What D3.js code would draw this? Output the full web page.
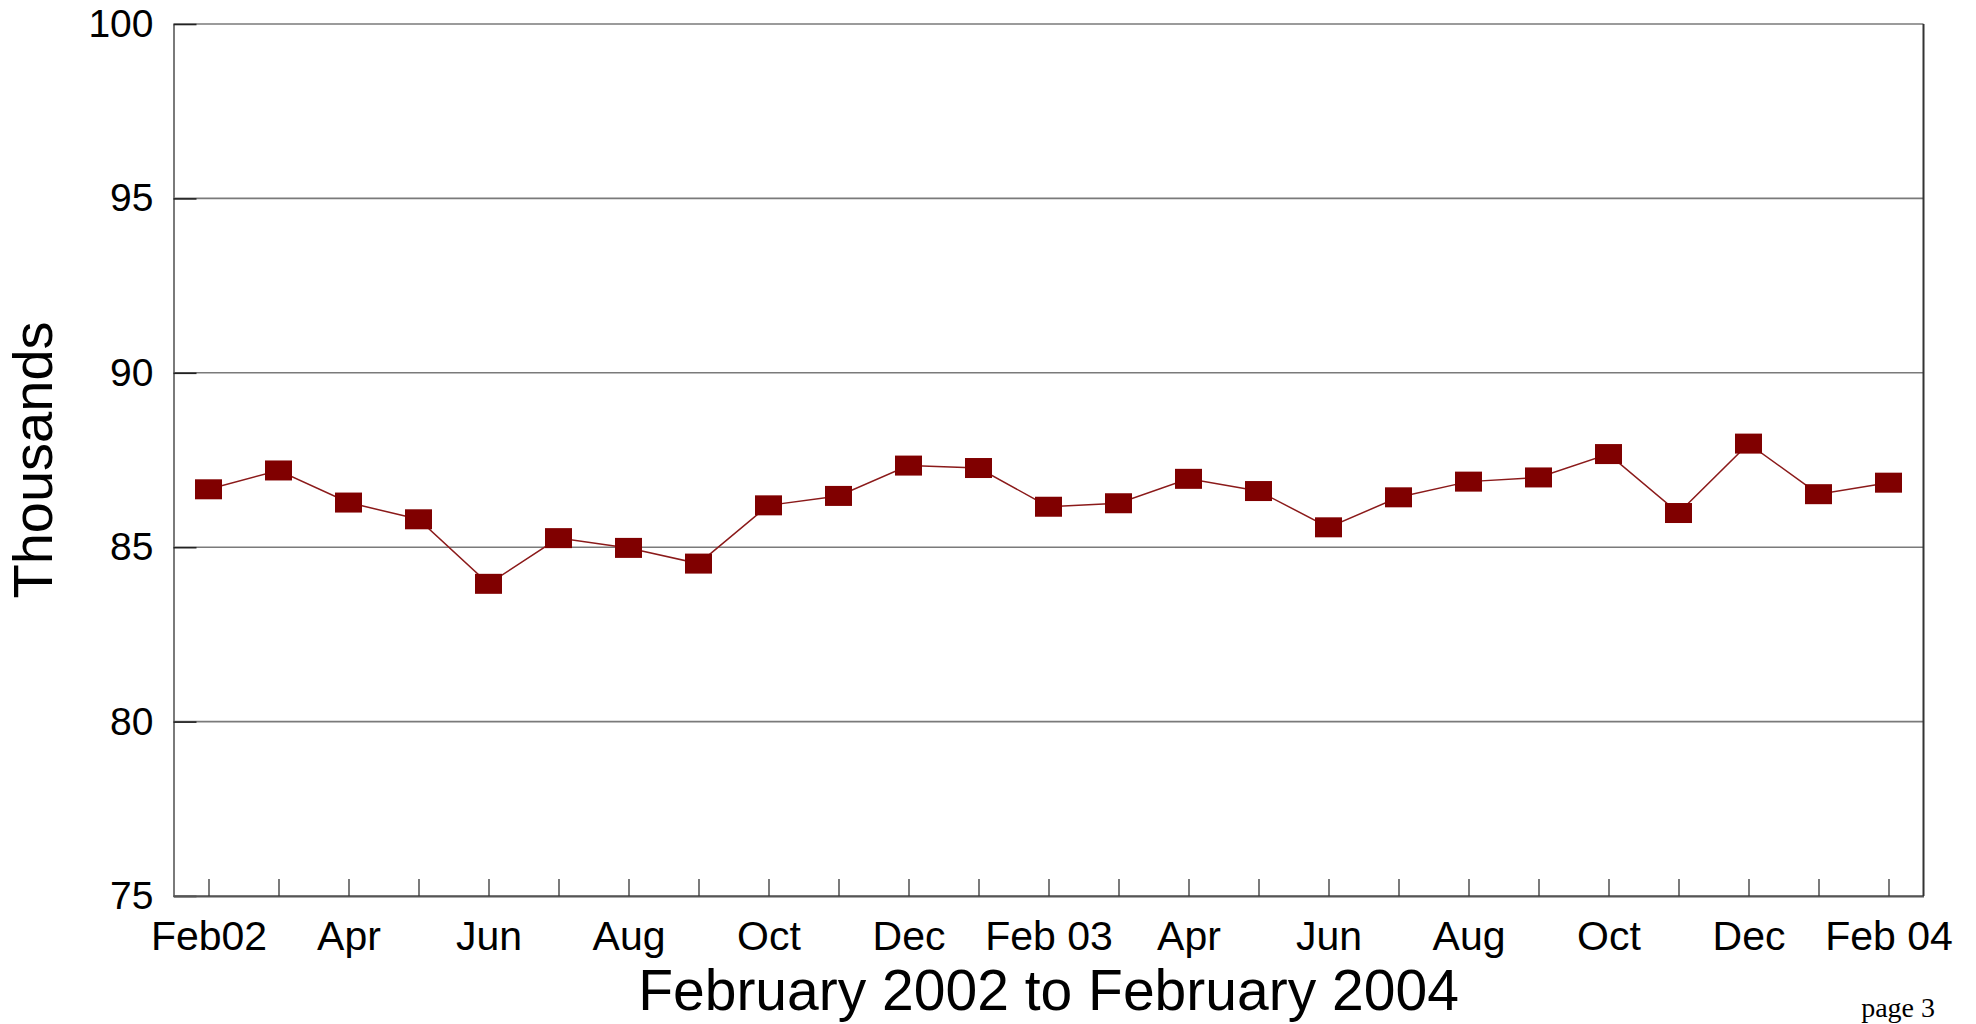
<!DOCTYPE html>
<html>
<head>
<meta charset="utf-8">
<script src="https://cdn.jsdelivr.net/npm/d3@7"></script>
<style>
  body { margin: 0; background: #fff; }
  svg { display: block; }
</style>
</head>
<body>
<svg id="chart" width="1976" height="1024"></svg>
<script>
// months on the x axis (one point per month)
const months = ["2002-02", "2002-03", "2002-04", "2002-05", "2002-06", "2002-07", "2002-08",
    "2002-09", "2002-10", "2002-11", "2002-12", "2003-01", "2003-02", "2003-03", "2003-04",
    "2003-05", "2003-06", "2003-07", "2003-08", "2003-09", "2003-10", "2003-11", "2003-12",
    "2004-01", "2004-02"];

// thousands
const values = [86.66, 87.20, 86.28, 85.80, 83.95, 85.26, 84.98, 84.53, 86.20, 86.47, 87.34,
    87.27, 86.16, 86.26, 86.96, 86.61, 85.57, 86.43, 86.88, 87.00, 87.67, 85.98, 87.97,
    86.52, 86.85];

// tick labels, shown every other month
const tickLabels = {
    "2002-02": "Feb02", "2002-04": "Apr", "2002-06": "Jun", "2002-08": "Aug",
    "2002-10": "Oct", "2002-12": "Dec", "2003-02": "Feb 03", "2003-04": "Apr",
    "2003-06": "Jun", "2003-08": "Aug", "2003-10": "Oct", "2003-12": "Dec",
    "2004-02": "Feb 04"
};

const yTicks = [75, 80, 85, 90, 95, 100];

const svg = d3.select("#chart");
const plot = { left: 173.5, right: 1923.5, top: 24, bottom: 896 };
const font = "'Liberation Sans', Arial, sans-serif";

const xScale = d3.scalePoint()
    .domain(months)
    .range([plot.left, plot.right])
    .padding(0.5);

const yScale = d3.scaleLinear()
    .domain([75, 100])
    .range([plot.bottom, plot.top]);

// horizontal grid lines
svg.append("g")
    .selectAll("line")
    .data(yTicks)
    .enter()
    .append("line")
    .attr("x1", plot.left)
    .attr("x2", plot.right)
    .attr("y1", d => yScale(d))
    .attr("y2", d => yScale(d))
    .attr("stroke", "#7a7a7a")
    .attr("stroke-width", 1.6);

// y axis
const yAxis = svg.append("g")
    .attr("transform", `translate(${plot.left},0)`)
    .call(d3.axisLeft(yScale)
        .tickValues(yTicks)
        .tickSizeInner(-23)
        .tickSizeOuter(0)
        .tickPadding(20));
yAxis.select(".domain").attr("stroke", "#7a7a7a").attr("stroke-width", 2);
yAxis.selectAll(".tick line").attr("stroke", "#222").attr("stroke-width", 1.6);
yAxis.selectAll("text")
    .attr("font-family", font)
    .attr("font-size", 39)
    .attr("fill", "#000");

// x axis
const xAxis = svg.append("g")
    .attr("transform", `translate(0,${plot.bottom})`)
    .call(d3.axisBottom(xScale)
        .tickSizeInner(-17)
        .tickSizeOuter(0)
        .tickPadding(25)
        .tickFormat(d => tickLabels[d] || ""));
xAxis.select(".domain").attr("stroke", "#555").attr("stroke-width", 2);
xAxis.selectAll(".tick line").attr("stroke", "#333").attr("stroke-width", 1.3);
xAxis.selectAll("text")
    .attr("font-family", font)
    .attr("font-size", 41)
    .attr("fill", "#000");

// right border
svg.append("line")
    .attr("x1", plot.right).attr("x2", plot.right)
    .attr("y1", plot.top).attr("y2", plot.bottom)
    .attr("stroke", "#333")
    .attr("stroke-width", 2);

// series line
const line = d3.line()
    .x((d, i) => xScale(months[i]))
    .y(d => yScale(d));

svg.append("path")
    .datum(values)
    .attr("d", line)
    .attr("fill", "none")
    .attr("stroke", "#8b1a1a")
    .attr("stroke-width", 1.5);

// square markers
const mw = 27, mh = 20;
svg.append("g")
    .selectAll("rect")
    .data(values)
    .enter()
    .append("rect")
    .attr("x", (d, i) => xScale(months[i]) - mw / 2)
    .attr("y", d => yScale(d) - mh / 2)
    .attr("width", mw)
    .attr("height", mh)
    .attr("fill", "#800000");

// axis titles
svg.append("text")
    .attr("x", (plot.left + plot.right) / 2)
    .attr("y", 1010)
    .attr("text-anchor", "middle")
    .attr("font-family", font)
    .attr("font-size", 57)
    .text("February 2002 to February 2004");

svg.append("text")
    .attr("transform", `translate(52,${(plot.top + plot.bottom) / 2}) rotate(-90)`)
    .attr("text-anchor", "middle")
    .attr("font-family", font)
    .attr("font-size", 56)
    .text("Thousands");

svg.append("text")
    .attr("x", 1935)
    .attr("y", 1017)
    .attr("text-anchor", "end")
    .attr("font-family", "'Liberation Serif', 'Times New Roman', serif")
    .attr("font-size", 28)
    .text("page 3");
</script>
</body>
</html>
